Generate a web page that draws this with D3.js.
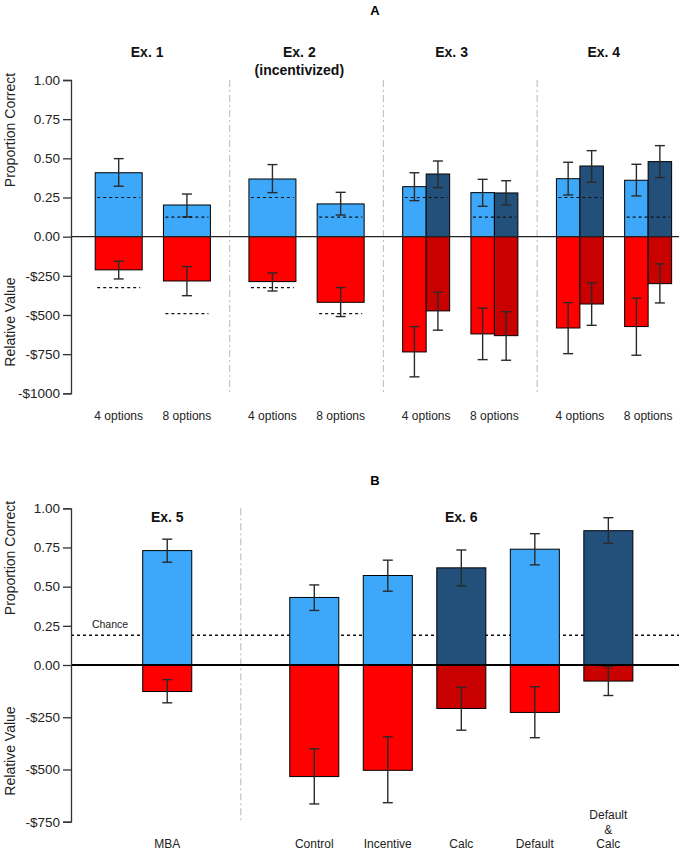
<!DOCTYPE html>
<html><head><meta charset="utf-8">
<script src="https://cdn.jsdelivr.net/npm/d3@7"></script>
<style>body{margin:0;background:#fff}svg{display:block;font-family:"Liberation Sans",Arial,sans-serif}</style>
</head><body>
<svg id="chart" width="684" height="852"></svg>
<script>
// ---------- Panel A data ----------
const groupsA = [["Ex. 1"], ["Ex. 2", "(incentivized)"], ["Ex. 3"], ["Ex. 4"]];
const optionsA = ["4 options", "8 options"];
// order: Ex1-4, Ex1-8, Ex2-4, Ex2-8, Ex3-4, Ex3-8, Ex4-4, Ex4-8
const propA    = [0.408, 0.202, 0.368, 0.209, 0.319, 0.281, 0.370, 0.360];
const propA_lo = [0.322, 0.126, 0.281, 0.138, 0.230, 0.194, 0.266, 0.260];
const propA_hi = [0.498, 0.272, 0.460, 0.283, 0.408, 0.366, 0.475, 0.462];
const propA2    = [null, null, null, null, 0.400, 0.279, 0.451, 0.479];
const propA2_lo = [null, null, null, null, 0.313, 0.202, 0.347, 0.377];
const propA2_hi = [null, null, null, null, 0.483, 0.357, 0.549, 0.581];
const valA    = [-212, -283, -287, -419, -736, -621, -583, -574];
const valA_lo = [-270, -377, -347, -510, -895, -785, -747, -757];
const valA_hi = [-157, -191, -232, -325, -574, -457, -421, -393];
const valA2    = [null, null, null, null, -474, -632, -430, -300];
const valA2_lo = [null, null, null, null, -597, -789, -566, -423];
const valA2_hi = [null, null, null, null, -355, -479, -294, -174];
const chancePropA = [0.25, 0.125, 0.25, 0.125, 0.25, 0.125, 0.25, 0.125];
const chanceValA  = [-325, -491, -325, -491, null, null, null, null];

// ---------- Panel B data ----------
const groupsB = ["Ex. 5", "Ex. 6"];
const categoriesB = [["MBA"], ["Control"], ["Incentive"], ["Calc"], ["Default"], ["Default", "&", "Calc"]];
const darkB = [false, false, false, true, false, true];
const propB    = [0.730, 0.431, 0.571, 0.620, 0.739, 0.857];
const propB_lo = [0.656, 0.348, 0.471, 0.505, 0.639, 0.777];
const propB_hi = [0.803, 0.511, 0.669, 0.734, 0.838, 0.940];
const valB    = [-127, -534, -504, -208, -227, -77];
const valB_lo = [-181, -665, -659, -312, -348, -146];
const valB_hi = [-70, -401, -344, -107, -104, -7];
const chanceB = 0.19;

// ---------- tick labels ----------
const propTicks = [0, 0.25, 0.5, 0.75, 1];
const valTicksA = [-250, -500, -750, -1000];
const valTicksB = [-250, -500, -750];

const COL = {light: "#3DA8FA", dark: "#22507A", red: "#FF0000", dred: "#C90000", err: "#2a2a2a", axis: "#333", div: "#c4c4c4"};

const svg = d3.select("#chart");
const X0 = 71, X1 = 679;

function fmtTick(maxVal) {
  return d => d >= 0 ? d3.format(".2f")(d) : "-$" + Math.round(-d * maxVal);
}

function drawAxis(y, maxVal, valTicks, titleYProp, titleYVal) {
  const ticks = propTicks.concat(valTicks.map(v => v / maxVal));
  const ax = svg.append("g").attr("transform", `translate(${X0},0)`)
    .call(d3.axisLeft(y).tickValues(ticks).tickSizeOuter(0).tickSize(8).tickPadding(3).tickFormat(fmtTick(maxVal)));
  ax.select(".domain").attr("stroke", COL.axis).attr("stroke-width", 1.3);
  ax.selectAll(".tick line").attr("stroke", COL.axis).attr("stroke-width", 1.3);
  ax.selectAll(".tick text").attr("font-size", 13.5).attr("fill", "#222").attr("font-family", "Liberation Sans, Arial");
  svg.append("text").attr("transform", `translate(15,${titleYProp}) rotate(-90)`)
    .attr("text-anchor", "middle").attr("font-size", 14).attr("fill", "#222").text("Proportion Correct");
  svg.append("text").attr("transform", `translate(15,${titleYVal}) rotate(-90)`)
    .attr("text-anchor", "middle").attr("font-size", 14).attr("fill", "#222").text("Relative Value");
}

function errBar(g, x, y1, y2, cap) {
  g.append("line").attr("x1", x).attr("x2", x).attr("y1", y1).attr("y2", y2);
  g.append("line").attr("x1", x - cap).attr("x2", x + cap).attr("y1", y1).attr("y2", y1);
  g.append("line").attr("x1", x - cap).attr("x2", x + cap).attr("y1", y2).attr("y2", y2);
}

// =================== PANEL A ===================
const xA = d3.scaleLinear().domain([0, 12.94]).range([X0, X1]);
const yA = d3.scaleLinear().domain([-1, 1]).range([393.3, 80]);
const slotCenterA = (g, s) => 1.015 + g * 3.272 + s * 1.452;
const wA = 1;

// dividers
for (let g = 0; g < groupsA.length - 1; g++) {
  const xd = (xA(slotCenterA(g, 1) + wA / 2) + xA(slotCenterA(g + 1, 0) - wA / 2)) / 2;
  svg.append("line").attr("x1", xd).attr("x2", xd).attr("y1", yA(1)).attr("y2", yA(-1))
    .attr("stroke", COL.div).attr("stroke-width", 1.2).attr("stroke-dasharray", "7,3,2,3");
}

const barsA = svg.append("g");
const errA = svg.append("g").attr("stroke", COL.err).attr("stroke-width", 1.4);
propA.forEach((p, i) => {
  const g = Math.floor(i / 2), s = i % 2;
  const c = slotCenterA(g, s);
  const hasDark = propA2[i] !== null;
  const w = hasDark ? wA / 2 : wA;
  const cl = hasDark ? c - wA / 4 : c;
  const l = xA(cl - w / 2), r = xA(cl + w / 2);
  barsA.append("rect").attr("x", l).attr("y", yA(p)).attr("width", r - l).attr("height", yA(0) - yA(p))
    .attr("fill", COL.light).attr("stroke", "#000").attr("stroke-width", 1);
  barsA.append("rect").attr("x", l).attr("y", yA(0)).attr("width", r - l).attr("height", yA(valA[i] / 1000) - yA(0))
    .attr("fill", COL.red).attr("stroke", "#000").attr("stroke-width", 1);
  errBar(errA, (l + r) / 2, yA(propA_hi[i]), yA(propA_lo[i]), 5);
  errBar(errA, (l + r) / 2, yA(valA_hi[i] / 1000), yA(valA_lo[i] / 1000), 5);
  let L = l, R = r;
  if (hasDark) {
    const cd = c + wA / 4;
    const l2 = xA(cd - w / 2), r2 = xA(cd + w / 2);
    barsA.append("rect").attr("x", l2).attr("y", yA(propA2[i])).attr("width", r2 - l2).attr("height", yA(0) - yA(propA2[i]))
      .attr("fill", COL.dark).attr("stroke", "#000").attr("stroke-width", 1);
    barsA.append("rect").attr("x", l2).attr("y", yA(0)).attr("width", r2 - l2).attr("height", yA(valA2[i] / 1000) - yA(0))
      .attr("fill", COL.dred).attr("stroke", "#000").attr("stroke-width", 1);
    errBar(errA, (l2 + r2) / 2, yA(propA2_hi[i]), yA(propA2_lo[i]), 5);
    errBar(errA, (l2 + r2) / 2, yA(valA2_hi[i] / 1000), yA(valA2_lo[i] / 1000), 5);
    R = r2;
  }
  // chance lines
  svg.append("line").attr("x1", L + 2).attr("x2", R - 2).attr("y1", yA(chancePropA[i])).attr("y2", yA(chancePropA[i]))
    .attr("stroke", "#111").attr("stroke-width", 1.2).attr("stroke-dasharray", "3,3");
  if (chanceValA[i] !== null) {
    svg.append("line").attr("x1", L + 2).attr("x2", R - 2).attr("y1", yA(chanceValA[i] / 1000)).attr("y2", yA(chanceValA[i] / 1000))
      .attr("stroke", "#111").attr("stroke-width", 1.2).attr("stroke-dasharray", "3,3");
  }
  // option label
  svg.append("text").attr("x", xA(c)).attr("y", 420).attr("text-anchor", "middle")
    .attr("font-size", 12).attr("fill", "#222").text(optionsA[s]);
});
svg.append("line").attr("x1", X0).attr("x2", X1).attr("y1", yA(0)).attr("y2", yA(0)).attr("stroke", "#222").attr("stroke-width", 1.3);
drawAxis(yA, 1000, valTicksA, 130, 322);

groupsA.forEach((lines, g) => {
  const t = svg.append("text").attr("text-anchor", "middle").attr("font-size", 14).attr("font-weight", "bold").attr("fill", "#111");
  lines.forEach((ln, k) => t.append("tspan").attr("x", xA(1.62 + g * 3.24)).attr("y", 57 + k * 18).text(ln));
});
svg.append("text").attr("x", 375).attr("y", 15).attr("text-anchor", "middle").attr("font-size", 13).attr("font-weight", "bold").text("A");

// =================== PANEL B ===================
const xB = d3.scaleLinear().domain([0, 8.27]).range([X0, X1]);
const yB = d3.scaleLinear().domain([-1, 1]).range([821.7, 508.3]);
const slotB = [0, 2, 3, 4, 5, 6];
const centerB = i => 1.309 + slotB[i];
const wB = 0.667;

const xdB = xB(1.309 + 1);
svg.append("line").attr("x1", xdB).attr("x2", xdB).attr("y1", yB(1)).attr("y2", yB(-1))
  .attr("stroke", COL.div).attr("stroke-width", 1.2).attr("stroke-dasharray", "7,3,2,3");

svg.append("line").attr("x1", X0).attr("x2", X1).attr("y1", yB(chanceB)).attr("y2", yB(chanceB))
  .attr("stroke", "#111").attr("stroke-width", 1.3).attr("stroke-dasharray", "3,3");
svg.append("text").attr("x", 110).attr("y", 628).attr("text-anchor", "middle").attr("font-size", 10.5).attr("fill", "#222").text("Chance");

const barsB = svg.append("g");
const errB = svg.append("g").attr("stroke", COL.err).attr("stroke-width", 1.4);
propB.forEach((p, i) => {
  const c = centerB(i);
  const l = xB(c - wB / 2), r = xB(c + wB / 2);
  barsB.append("rect").attr("x", l).attr("y", yB(p)).attr("width", r - l).attr("height", yB(0) - yB(p))
    .attr("fill", darkB[i] ? COL.dark : COL.light).attr("stroke", "#000").attr("stroke-width", 1);
  barsB.append("rect").attr("x", l).attr("y", yB(0)).attr("width", r - l).attr("height", yB(valB[i] / 750) - yB(0))
    .attr("fill", darkB[i] ? COL.dred : COL.red).attr("stroke", "#000").attr("stroke-width", 1);
  errBar(errB, xB(c), yB(propB_hi[i]), yB(propB_lo[i]), 5);
  errBar(errB, xB(c), yB(valB_hi[i] / 750), yB(valB_lo[i] / 750), 5);
  const lines = categoriesB[i];
  const t = svg.append("text").attr("text-anchor", "middle").attr("font-size", 12).attr("fill", "#222");
  lines.forEach((ln, k) => t.append("tspan").attr("x", xB(c)).attr("y", 848 - (lines.length - 1 - k) * 14.5).text(ln));
});
svg.append("line").attr("x1", X0).attr("x2", X1).attr("y1", yB(0)).attr("y2", yB(0)).attr("stroke", "#000").attr("stroke-width", 1.8);
drawAxis(yB, 750, valTicksB, 558, 751);

svg.append("text").attr("x", xB(centerB(0))).attr("y", 522).attr("text-anchor", "middle").attr("font-size", 14).attr("font-weight", "bold").attr("fill", "#111").text(groupsB[0]);
svg.append("text").attr("x", xB(1.309 + 4)).attr("y", 522).attr("text-anchor", "middle").attr("font-size", 14).attr("font-weight", "bold").attr("fill", "#111").text(groupsB[1]);
svg.append("text").attr("x", 375).attr("y", 485).attr("text-anchor", "middle").attr("font-size", 13).attr("font-weight", "bold").text("B");
</script>
</body></html>
